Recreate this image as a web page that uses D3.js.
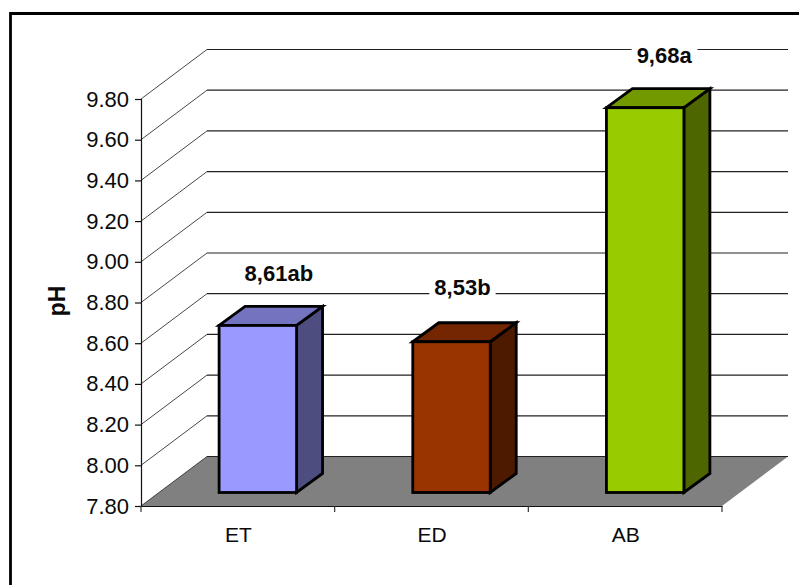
<!DOCTYPE html>
<html>
<head>
<meta charset="utf-8">
<script src="https://cdn.jsdelivr.net/npm/d3@7/dist/d3.min.js"></script>
<style>
html, body { margin: 0; padding: 0; background: #fff; }
svg { display: block; }
text { font-family: "Liberation Sans", Arial, sans-serif; fill: #0a0a0a; }
</style>
</head>
<body>
<svg id="chart" width="799" height="585"></svg>
<script>
// Chart data
const categories = ["ET", "ED", "AB"];
const phValues = [8.61, 8.53, 9.68];
const valueLabels = ["8,61ab", "8,53b", "9,68a"];
const tickValues = [7.8, 8.0, 8.2, 8.4, 8.6, 8.8, 9.0, 9.2, 9.4, 9.6, 9.8];
const frontColors = ["#9999ff", "#993300", "#99cc00"];
const topColors = ["#7373bf", "#732600", "#739900"];
const sideColors = ["#4d4d80", "#4d1a00", "#4d6600"];

// Layout of the oblique 3D plot box
const plot = { left: 141, right: 722, top: 99, bottom: 506 };
const wall = { dx: 66, dy: -49.5 };        // front plane to back wall
const barInset = { dx: 20, dy: -13.5 };    // front plane to bar front face
const barLift = -2.2;                      // bar tops sit slightly above their plane height
const barDepth = { dx: 26, dy: -19 };      // bar front face to bar back face
const labelNudge = [
  { x: 21, y: -25 },
  { x: 11, y: -28 },
  { x: 19, y: -26 }
];

const svg = d3.select("#chart");

const y = d3.scaleLinear().domain([7.8, 9.8]).range([plot.bottom, plot.top]);
const x = d3.scaleBand().domain(categories).range([plot.left, plot.right]).paddingInner(0.6).paddingOuter(0.3);

const poly = pts => pts.map(p => p.join(",")).join(" ");

// Outer chart frame, running off the right and bottom edges
svg.append("path")
  .attr("d", "M10.5,600 V13.5 H810")
  .attr("fill", "none")
  .attr("stroke", "#000")
  .attr("stroke-width", 2.8);

// Floor
svg.append("polygon")
  .attr("points", poly([
    [plot.left, plot.bottom],
    [plot.left + wall.dx, plot.bottom + wall.dy],
    [plot.right + wall.dx, plot.bottom + wall.dy],
    [plot.right, plot.bottom]
  ]))
  .attr("fill", "#808080");

// Gridlines: slanted along the side wall, then horizontal along the back wall
const grid = svg.append("g").attr("fill", "none");
grid.selectAll("path.slant")
  .data(tickValues)
  .join("path")
  .attr("class", "slant")
  .attr("d", v => `M${plot.left},${y(v)} L${plot.left + wall.dx},${y(v) + wall.dy}`)
  .attr("stroke", "#333")
  .attr("stroke-width", 0.9);
grid.selectAll("path.back")
  .data(tickValues)
  .join("path")
  .attr("class", "back")
  .attr("d", v => `M${plot.left + wall.dx},${y(v) + wall.dy} H${plot.right + wall.dx}`)
  .attr("stroke", "#222")
  .attr("stroke-width", 1.2);

// Axes
const yAxis = d3.axisLeft(y).tickValues(tickValues).tickFormat(d3.format(".2f")).tickSize(6).tickPadding(6);
const yG = svg.append("g").attr("transform", `translate(${plot.left},0)`).call(yAxis);
yG.select(".domain").attr("stroke", "#111").attr("stroke-width", 1.2);
yG.selectAll(".tick line").attr("stroke", "#111").attr("stroke-width", 1.2);
yG.selectAll("text").style("font-size", "22px").style("font-family", '"Liberation Sans", Arial, sans-serif').attr("fill", "#0a0a0a");

const xAxis = d3.axisBottom(x).tickValues([]).tickSize(0);
const xG = svg.append("g").attr("transform", `translate(0,${plot.bottom})`).call(xAxis);
xG.select(".domain").attr("stroke", "#111").attr("stroke-width", 1.2);

// Category separators below the floor edge
const step = (plot.right - plot.left) / categories.length;
svg.append("g").selectAll("line")
  .data(d3.range(categories.length + 1))
  .join("line")
  .attr("x1", i => plot.left + i * step)
  .attr("x2", i => plot.left + i * step)
  .attr("y1", plot.bottom)
  .attr("y2", plot.bottom + 6)
  .attr("stroke", "#333")
  .attr("stroke-width", 1.2);

// Category labels
svg.append("g").selectAll("text")
  .data(categories)
  .join("text")
  .attr("x", d => x(d) + x.bandwidth() / 2 + 0.7)
  .attr("y", 542)
  .attr("text-anchor", "middle")
  .style("font-size", "21px")
  .text(d => d);

// Axis title
svg.append("text")
  .attr("transform", "translate(64.5,301) rotate(-90)")
  .attr("text-anchor", "middle")
  .style("font-size", "23px")
  .style("font-weight", "bold")
  .text("pH");

// Value labels sit on white plates that interrupt the gridlines
const labels = svg.append("g");
categories.forEach((c, i) => {
  const backTop = y(phValues[i]) + barInset.dy + barLift + barDepth.dy;
  const lx = x(c) + x.bandwidth() / 2 + barInset.dx + labelNudge[i].x;
  const ly = backTop + labelNudge[i].y;
  const plate = labels.append("rect").attr("fill", "#fff");
  const t = labels.append("text")
    .attr("x", lx)
    .attr("y", ly)
    .attr("text-anchor", "middle")
    .style("font-size", "22px")
    .style("font-weight", "bold")
    .text(valueLabels[i]);
  const b = t.node().getBBox();
  plate.attr("x", b.x - 5).attr("y", b.y - 1).attr("width", b.width + 10).attr("height", b.height + 6);
});

// Bars: side and top faces first, then the front face
const bars = svg.append("g")
  .attr("stroke", "#000")
  .attr("stroke-width", 2.8)
  .attr("stroke-linejoin", "miter");
categories.forEach((c, i) => {
  const x0 = x(c) + barInset.dx;
  const x1 = x0 + x.bandwidth();
  const yTop = y(phValues[i]) + barInset.dy + barLift;
  const yBase = plot.bottom + barInset.dy;
  bars.append("polygon")
    .attr("fill", sideColors[i])
    .attr("points", poly([
      [x1, yTop], [x1 + barDepth.dx, yTop + barDepth.dy],
      [x1 + barDepth.dx, yBase + barDepth.dy], [x1, yBase]
    ]));
  bars.append("polygon")
    .attr("fill", topColors[i])
    .attr("points", poly([
      [x0, yTop], [x0 + barDepth.dx, yTop + barDepth.dy],
      [x1 + barDepth.dx, yTop + barDepth.dy], [x1, yTop]
    ]));
  bars.append("rect")
    .attr("fill", frontColors[i])
    .attr("x", x0)
    .attr("y", yTop)
    .attr("width", x1 - x0)
    .attr("height", yBase - yTop);
});
</script>
</body>
</html>
